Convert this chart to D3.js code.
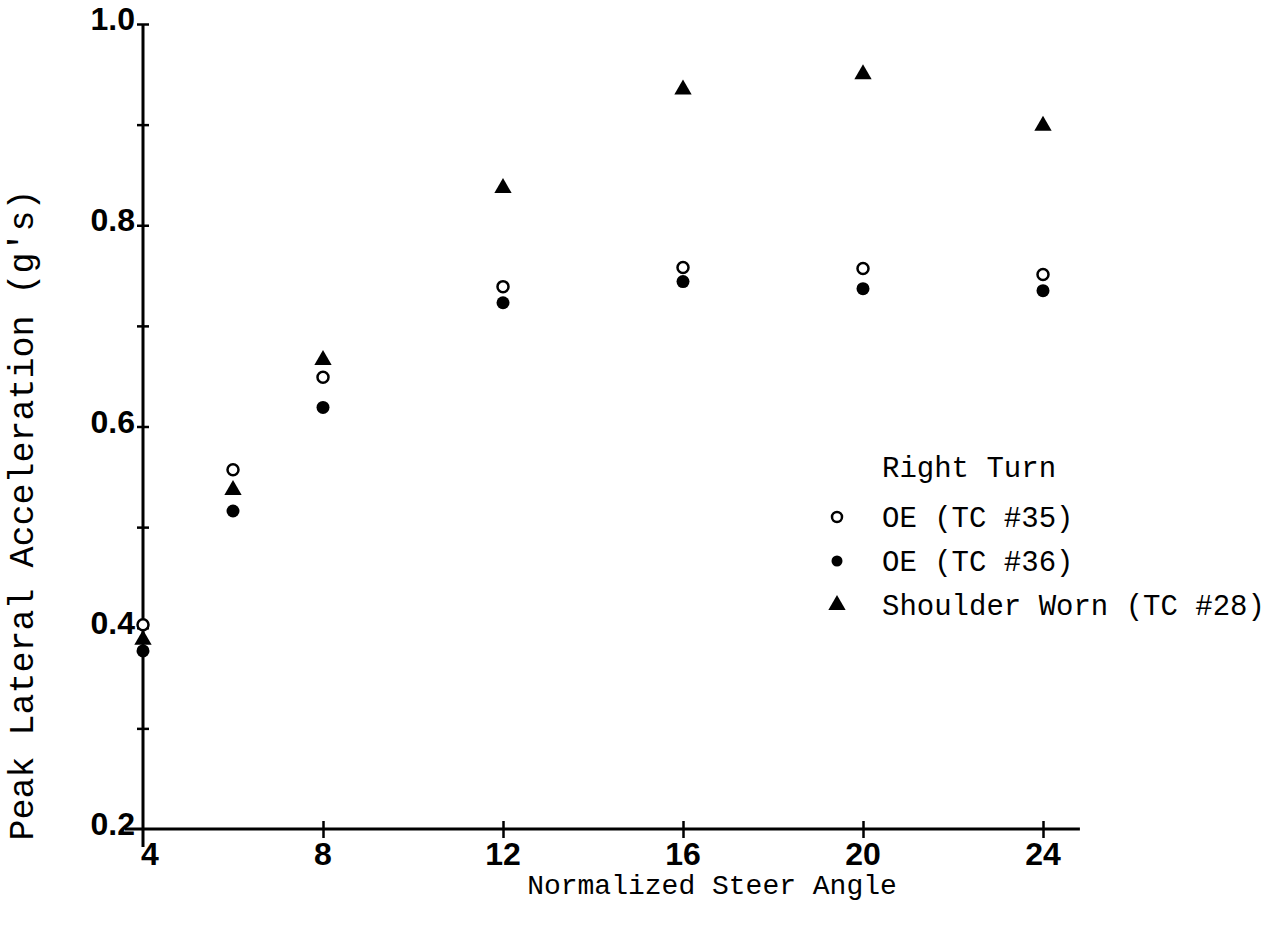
<!DOCTYPE html>
<html>
<head>
<meta charset="utf-8">
<script src="https://cdn.jsdelivr.net/npm/d3@7"></script>
<style>
  body { margin: 0; background: #fff; }
  .tick-lbl { font-family: "Liberation Sans", Arial, sans-serif; font-weight: bold; font-size: 32px; }
  .ttl { font-family: "Liberation Mono", "Courier New", monospace; }
</style>
</head>
<body>
<div id="chart"></div>
<script>
// steer angles and the three test series (peak lateral acceleration, g's)
const steerAngles = [4, 6, 8, 12, 16, 20, 24];
const oe35 = [0.403, 0.557, 0.649, 0.739, 0.758, 0.757, 0.751];
const oe36 = [0.377, 0.516, 0.619, 0.723, 0.744, 0.737, 0.735];
const shoulderWorn = [0.388, 0.537, 0.666, 0.837, 0.935, 0.950, 0.899];

const xTicks = [4, 8, 12, 16, 20, 24];
const yTicks = [0.2, 0.3, 0.4, 0.5, 0.6, 0.7, 0.8, 0.9, 1.0];
const yLabels = [0.2, 0.4, 0.6, 0.8, 1.0];
const legendItems = ["OE (TC #35)", "OE (TC #36)", "Shoulder Worn (TC #28)"];

const width = 1281, height = 925;

const svg = d3.select("#chart")
  .append("svg")
    .attr("width", width)
    .attr("height", height);

// scales
let x = d3.scaleLinear().domain([4, 24]).range([143, 1043]);
let y = d3.scaleLinear().domain([0.2, 1.0]).range([829, 24]);

// x axis (line extended a bit past 24 and left of the y axis)
const xAxis = svg.append("g")
    .attr("transform", "translate(0," + y(0.2) + ")")
    .call(d3.axisBottom(x).tickValues(xTicks.slice(1)).tickSize(9).tickFormat(""));
xAxis.select(".domain").remove();
xAxis.selectAll(".tick line").attr("y1", -8).attr("stroke", "#000").attr("stroke-width", 2.5);
xAxis.append("line")
    .attr("x1", 125).attr("x2", x(24.82))
    .attr("stroke", "#000").attr("stroke-width", 3);

// y axis, ticks crossing the line
const yAxis = svg.append("g")
    .attr("transform", "translate(" + x(4) + ",0)")
    .call(d3.axisLeft(y).tickValues(yTicks.slice(1)).tickSize(6).tickFormat(""));
yAxis.select(".domain").remove();
yAxis.selectAll(".tick line").attr("x1", -6).attr("x2", 6).attr("stroke", "#000").attr("stroke-width", 2.5);
yAxis.append("line")
    .attr("y1", y(1.0)).attr("y2", y(0.2) + 18)
    .attr("stroke", "#000").attr("stroke-width", 3);

// tick labels
svg.selectAll("xlbl")
  .data(xTicks)
  .enter()
  .append("text")
    .attr("class", "tick-lbl")
    .attr("x", function(d) { return x(d) + (d == 4 ? 7 : 0); })
    .attr("y", y(0.2) + 36)
    .attr("text-anchor", "middle")
    .text(function(d) { return d; });

svg.selectAll("ylbl")
  .data(yLabels)
  .enter()
  .append("text")
    .attr("class", "tick-lbl")
    .attr("x", x(4) - 8)
    .attr("y", function(d) { return y(d) + 6; })
    .attr("text-anchor", "end")
    .text(function(d) { return d3.format(".1f")(d); });

// axis titles
svg.append("text")
    .attr("class", "ttl")
    .attr("x", 712)
    .attr("y", 894)
    .attr("text-anchor", "middle")
    .style("font-size", "28px")
    .text("Normalized Steer Angle");

svg.append("text")
    .attr("class", "ttl")
    .attr("transform", "translate(33," + 515 + ")rotate(-90)")
    .attr("text-anchor", "middle")
    .style("font-size", "35px")
    .text("Peak Lateral Acceleration (g's)");

// markers
const tri = d3.symbol().type(d3.symbolTriangle).size(130);

svg.selectAll("tri")
  .data(shoulderWorn)
  .enter()
  .append("path")
    .attr("d", tri)
    .attr("transform", function(d, i) { return "translate(" + x(steerAngles[i]) + "," + y(d) + ")"; })
    .attr("fill", "#000");

svg.selectAll("open")
  .data(oe35)
  .enter()
  .append("circle")
    .attr("cx", function(d, i) { return x(steerAngles[i]); })
    .attr("cy", function(d) { return y(d); })
    .attr("r", 5.5)
    .attr("fill", "#fff")
    .attr("stroke", "#000")
    .attr("stroke-width", 2.5);

svg.selectAll("filled")
  .data(oe36)
  .enter()
  .append("circle")
    .attr("cx", function(d, i) { return x(steerAngles[i]); })
    .attr("cy", function(d) { return y(d); })
    .attr("r", 6.5)
    .attr("fill", "#000");

// legend
const lg = svg.append("g").attr("class", "ttl").style("font-size", "29px");
lg.append("text").attr("x", 882).attr("y", 477).text("Right Turn");
lg.selectAll("lgtxt")
  .data(legendItems)
  .enter()
  .append("text")
    .attr("x", 882)
    .attr("y", function(d, i) { return 527 + i * 44; })
    .text(function(d) { return d; });

lg.append("circle").attr("cx", 837).attr("cy", 517).attr("r", 5)
    .attr("fill", "#fff").attr("stroke", "#000").attr("stroke-width", 2.5);
lg.append("circle").attr("cx", 837).attr("cy", 561).attr("r", 5.5).attr("fill", "#000");
lg.append("path").attr("d", tri).attr("transform", "translate(837,605)").attr("fill", "#000");
</script>
</body>
</html>
